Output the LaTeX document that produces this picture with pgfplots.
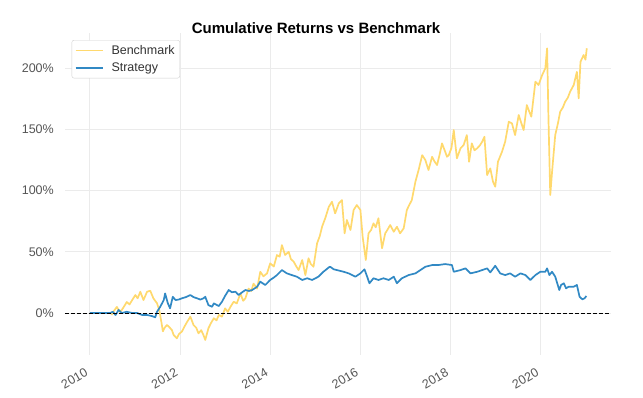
\documentclass[border=0pt]{standalone}
\usepackage{pgfplots}
\pgfplotsset{compat=1.18}
\usepackage{fontspec}
\setmainfont{Liberation Sans}
\definecolor{bench}{RGB}{255,217,110}
\definecolor{strat}{RGB}{49,137,196}
\definecolor{gridc}{RGB}{235,235,235}
\definecolor{tickc}{RGB}{85,85,85}
\begin{document}
\begin{tikzpicture}
\path[use as bounding box] (-65pt,-42pt) rectangle (578pt,355pt);
\begin{axis}[
  at={(0pt,0pt)}, anchor=south west,
  scale only axis, width=545.7pt, height=322pt,
  xmin=2009.45, xmax=2021.55, ymin=-34.3, ymax=228.8,
  axis line style={draw=none},
  major tick length=0pt,
  xtick={2010,2012,2014,2016,2018,2020},
  ytick={0,50,100,150,200},
  /pgf/number format/1000 sep={},
  /pgf/number format/assume math mode=true,
  yticklabel={\pgfmathprintnumber{\tick}\%},
  grid=major,
  major grid style={gridc, line width=0.8pt},
  tick label style={font=\fontsize{12.5}{14}\selectfont, text=tickc},
  yticklabel style={anchor=east, inner sep=0pt, xshift=-11pt},
  xticklabel style={rotate=30, anchor=north east, inner sep=0pt, xshift=-11pt, yshift=-8pt},
  title={\textbf{Cumulative Returns vs Benchmark}},
  title style={at={(axis description cs:0.46,1)}, anchor=base, font=\fontsize{15}{18}\selectfont, inner sep=0pt, yshift=-6.5pt},
  legend style={at={(axis description cs:0.0123,0.978)}, anchor=north west,
    draw=black!18, rounded corners=2pt, fill=white,
    font=\fontsize{12.5}{14}\selectfont, text=black!80,
    inner xsep=3pt, inner ysep=3pt, row sep=3pt, column sep=6pt},
  legend cell align=left,
  legend image code/.code={\draw[#1, line width=1.6pt] (0pt,0pt) -- (27pt,0pt);},
]
\addplot[bench, line width=1.7pt, line join=round] coordinates {
(2010.48,-1.6) (2010.54,2) (2010.60,5.0) (2010.66,1) (2010.71,2.5) (2010.77,6) (2010.82,9.0) (2010.88,7)
(2010.94,10.6) (2011.01,14.7) (2011.06,12) (2011.12,17.4) (2011.19,10.6) (2011.27,17.4) (2011.34,18.2)
(2011.41,12.0) (2011.49,8.0) (2011.54,2.5) (2011.59,-8) (2011.62,-15) (2011.66,-12) (2011.71,-9.8)
(2011.75,-11) (2011.82,-13.9) (2011.86,-18) (2011.93,-20.7) (2011.98,-17) (2012.04,-15.3) (2012.10,-11)
(2012.16,-7.1) (2012.23,-3) (2012.30,-9.8) (2012.36,-12) (2012.41,-16.6) (2012.47,-14) (2012.52,-18)
(2012.56,-22) (2012.63,-12.5) (2012.69,-8) (2012.75,-4.3) (2012.81,-6) (2012.86,-1.6) (2012.93,-3)
(2013.00,3.8) (2013.06,1) (2013.12,5.1) (2013.19,9.2) (2013.26,7.9) (2013.34,16) (2013.40,10) (2013.45,12)
(2013.52,20) (2013.58,18) (2013.63,24) (2013.71,20) (2013.78,33.7) (2013.85,30) (2013.93,32.4)
(2014.00,40.6) (2014.08,38) (2014.15,47.4) (2014.21,46) (2014.26,55.5) (2014.33,47.4) (2014.41,50)
(2014.46,44) (2014.52,42) (2014.58,38) (2014.63,35.1) (2014.71,43.3) (2014.78,31) (2014.85,44.7)
(2014.90,40) (2014.96,37.8) (2015.04,57) (2015.10,63) (2015.15,70.5) (2015.22,77.4) (2015.30,86.8)
(2015.37,90.9) (2015.44,81.4) (2015.52,89.6) (2015.59,92.3) (2015.65,65.1) (2015.70,76) (2015.78,67.8)
(2015.85,84.2) (2015.92,88.2) (2016.00,84.2) (2016.05,62.3) (2016.09,51.5) (2016.12,43.3) (2016.18,65.1)
(2016.24,68) (2016.29,73.3) (2016.34,70) (2016.40,77.4) (2016.48,52.9) (2016.55,65.1) (2016.60,68)
(2016.66,71.9) (2016.74,66.4) (2016.81,70.5) (2016.88,65.1) (2016.96,69.2) (2017.03,84.2) (2017.08,88)
(2017.14,92.3) (2017.22,107.3) (2017.29,116.8) (2017.37,129) (2017.44,125) (2017.51,116.8) (2017.59,127.7)
(2017.64,124) (2017.70,120.9) (2017.76,130) (2017.81,138.6) (2017.88,131.8) (2017.92,127.7) (2017.96,129)
(2018.02,135) (2018.07,149.5) (2018.14,126.4) (2018.22,134.6) (2018.29,137.3) (2018.36,145.4) (2018.41,123.6)
(2018.47,138.6) (2018.53,133) (2018.59,134.6) (2018.65,137) (2018.70,140) (2018.75,144) (2018.81,112.7)
(2018.88,118.2) (2018.94,107.3) (2018.99,103.2) (2019.05,123.6) (2019.14,131.8) (2019.21,140)
(2019.29,156.3) (2019.36,155) (2019.43,145.4) (2019.51,161.8) (2019.57,155) (2019.62,149.5) (2019.69,169.9)
(2019.74,165) (2019.79,160.4) (2019.88,189) (2019.95,186.3) (2020.03,194.4) (2020.10,199.9) (2020.14,216.3)
(2020.17,159) (2020.21,96.4) (2020.25,115.4) (2020.32,145.4) (2020.38,155) (2020.43,164.5) (2020.49,168)
(2020.54,172.6) (2020.60,176) (2020.65,180.8) (2020.73,186.3) (2020.80,197.1) (2020.84,175.4) (2020.88,205.3)
(2020.95,210.8) (2020.99,207) (2021.02,216.3)
};
\addlegendentry{Benchmark}
\addplot[strat, line width=1.7pt, line join=round] coordinates {
(2010.00,0) (2010.45,0) (2010.51,1) (2010.57,-1.6) (2010.64,2.5) (2010.71,0) (2010.82,1) (2010.94,0)
(2011.05,0) (2011.16,-1.6) (2011.27,-1.6) (2011.38,-2.5) (2011.45,-3.5) (2011.49,1) (2011.56,5)
(2011.64,10.6) (2011.67,16) (2011.73,8) (2011.78,3.8) (2011.84,13.3) (2011.90,10.6) (2011.97,11)
(2012.04,12) (2012.13,13) (2012.23,14.7) (2012.30,13) (2012.38,12) (2012.45,11) (2012.52,12) (2012.56,13.3)
(2012.63,6.5) (2012.71,5.1) (2012.75,7.9) (2012.86,5.7) (2012.93,9.2) (2013.00,14) (2013.08,18.8)
(2013.15,17) (2013.23,17.4) (2013.30,14.7) (2013.38,17) (2013.45,18.8) (2013.53,18) (2013.60,18.8)
(2013.71,21.5) (2013.78,25.6) (2013.89,22.9) (2014.00,27) (2014.08,29) (2014.15,31) (2014.26,35.1)
(2014.37,32.4) (2014.48,31) (2014.59,29.7) (2014.71,27) (2014.82,28.4) (2014.93,27) (2015.07,29.7)
(2015.18,33.7) (2015.30,37.3) (2015.33,37.8) (2015.41,35.7) (2015.48,35.1) (2015.63,33.7) (2015.74,32.4)
(2015.89,29.7) (2016.00,32.4) (2016.09,35.7) (2016.15,29.7) (2016.20,24.3) (2016.29,28.4) (2016.40,27)
(2016.51,28.4) (2016.63,27) (2016.74,29.7) (2016.81,24.3) (2016.92,28.4) (2017.07,31) (2017.22,32.4)
(2017.33,35.1) (2017.44,37.8) (2017.59,39.2) (2017.73,39.2) (2017.88,40) (2018.03,39.2) (2018.07,33.7)
(2018.22,35.1) (2018.33,36.5) (2018.44,32.4) (2018.59,33.7) (2018.70,35.1) (2018.81,36.5) (2018.88,33.2)
(2018.99,38.6) (2019.10,32.4) (2019.21,31) (2019.32,32.4) (2019.43,29.7) (2019.55,32.4) (2019.66,31)
(2019.77,27) (2019.88,31) (2019.99,33.7) (2020.10,33.7) (2020.14,36.5) (2020.19,31) (2020.25,33.7)
(2020.32,29.7) (2020.41,18.8) (2020.45,22.9) (2020.51,24.3) (2020.56,20.2) (2020.62,21.5) (2020.73,21.5)
(2020.80,22.9) (2020.86,13.3) (2020.92,11.2) (2020.97,12) (2021.01,13.9)
};
\addlegendentry{Strategy}
\addplot[black, dash pattern=on 4pt off 2pt, line width=1pt, forget plot] coordinates {(2009.45,0) (2021.55,0)};
\end{axis}
\end{tikzpicture}
\end{document}
